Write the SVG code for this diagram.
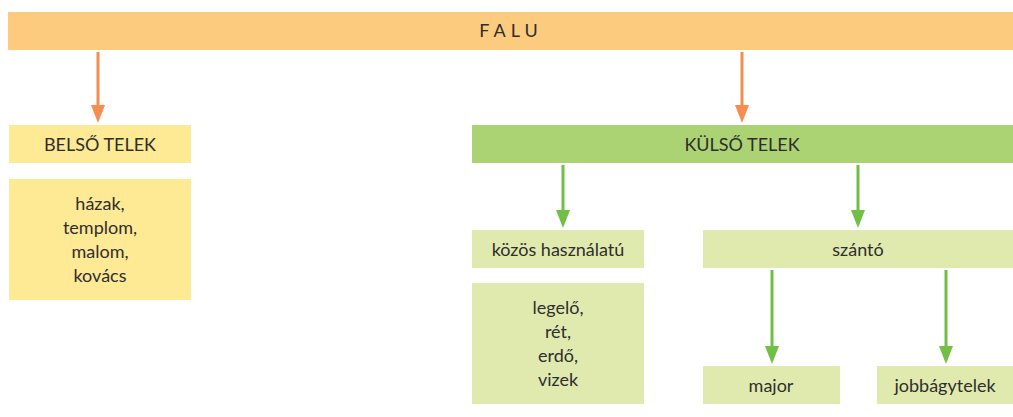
<svg xmlns="http://www.w3.org/2000/svg" width="1013" height="417" viewBox="0 0 1013 417">
<style>
text{font-family:"Lato","Noto Sans","Liberation Sans",sans-serif;font-size:18px;font-weight:400;fill:#2e2e2e;text-anchor:middle}
.falu{fill:#fdcb7d}.belso{fill:#fee994}.kulso{fill:#acd373}.light{fill:#e1eaae}
.co{stroke:#f58d50;stroke-width:3;fill:none}.cg{stroke:#71bf44;stroke-width:3;fill:none}
</style>
<g id="connectors">
<line class="co" x1="98" y1="52" x2="98" y2="105"/><path d="M91,105 L105,105 L98,123 Z" fill="#f58d50"/>
<line class="co" x1="742" y1="52" x2="742" y2="105"/><path d="M735,105 L749,105 L742,123 Z" fill="#f58d50"/>
<line class="cg" x1="563" y1="165" x2="563" y2="211"/><path d="M556,210 L570,210 L563,228 Z" fill="#71bf44"/>
<line class="cg" x1="858" y1="165" x2="858" y2="211"/><path d="M851,210 L865,210 L858,228 Z" fill="#71bf44"/>
<line class="cg" x1="772" y1="270" x2="772" y2="347"/><path d="M765,346 L779,346 L772,364 Z" fill="#71bf44"/>
<line class="cg" x1="946" y1="270" x2="946" y2="347"/><path d="M939,346 L953,346 L946,364 Z" fill="#71bf44"/>
</g>
<g id="falu"><rect class="falu" x="8" y="12" width="1005" height="38"/><text x="511" y="37" letter-spacing="5" font-weight="300">FALU</text></g>
<g id="belso"><rect class="belso" x="9" y="125" width="182" height="38"/><text x="100" y="151">BELSŐ TELEK</text></g>
<g id="belso-list"><rect class="belso" x="9" y="179" width="182" height="121"/>
<text x="100" y="210">házak,</text><text x="100" y="234">templom,</text><text x="100" y="258">malom,</text><text x="100" y="282">kovács</text></g>
<g id="kulso"><rect class="kulso" x="472" y="125" width="541" height="38"/><text x="742" y="151">KÜLSŐ TELEK</text></g>
<g id="kozos"><rect class="light" x="472" y="230" width="172" height="38"/><text x="558" y="256">közös használatú</text></g>
<g id="kozos-list"><rect class="light" x="472" y="283" width="172" height="121"/>
<text x="558" y="314">legelő,</text><text x="558" y="338">rét,</text><text x="558" y="362">erdő,</text><text x="558" y="386">vizek</text></g>
<g id="szanto"><rect class="light" x="703" y="230" width="310" height="38"/><text x="858" y="256">szántó</text></g>
<g id="major"><rect class="light" x="703" y="366" width="137" height="38"/><text x="771" y="392">major</text></g>
<g id="jobbagytelek"><rect class="light" x="877" y="366" width="136" height="38"/><text x="945" y="392">jobbágytelek</text></g>
</svg>
